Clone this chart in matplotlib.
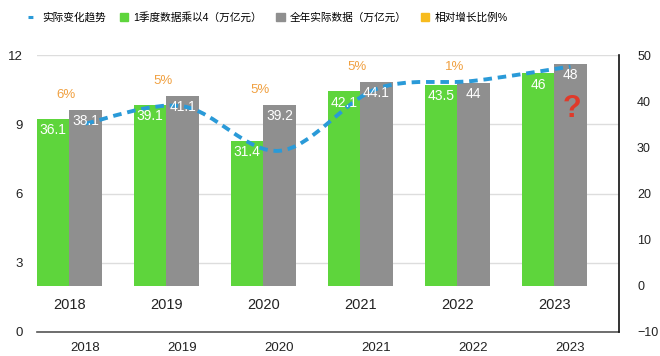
import matplotlib
matplotlib.use("Agg")
import matplotlib.pyplot as plt
from matplotlib.path import Path
from matplotlib.patches import PathPatch, Patch
from matplotlib.lines import Line2D
import numpy as np

plt.rcParams['font.family'] = ['Liberation Sans', 'Noto Sans CJK SC', 'DejaVu Sans']

years = ['2018', '2019', '2020', '2021', '2022', '2023']
q1_x4 = [36.1, 39.1, 31.4, 42.1, 43.5, 46]        # 1季度数据乘以4
full_year = [38.1, 41.1, 39.2, 44.1, 44, 48]      # 全年实际数据
trend = [9.03, 9.78, 7.85, 10.53, 10.88, 11.5]    # 实际变化趋势 (left axis)
growth = ['6%', '5%', '5%', '5%', '1%', '?']      # 相对增长比例%

GREEN = '#5ed53c'
GRAY = '#8f8f8f'
BLUE = '#2a9ad8'
ORANGE = '#f0a040'
GOLD = '#f7bb1e'


def smooth_path(xs, ys):
    # Catmull-Rom through the points, as cubic Bezier segments
    pts = np.column_stack([xs, ys])
    verts = [pts[0]]
    codes = [Path.MOVETO]
    n = len(pts)
    for i in range(n - 1):
        p0 = pts[max(i - 1, 0)]
        p1 = pts[i]
        p2 = pts[i + 1]
        p3 = pts[min(i + 2, n - 1)]
        verts += [p1 + (p2 - p0) / 6, p2 - (p3 - p1) / 6, p2]
        codes += [Path.CURVE4] * 3
    return Path(verts, codes)


fig = plt.figure(figsize=(6.6, 3.56), dpi=100)
ax1 = fig.add_axes([37 / 660, 24 / 356, 582 / 660, 277 / 356])
ax2 = ax1.twinx()

x = np.arange(len(years))
w = 0.335

# left axis: grid + ticks
ax1.set_xlim(-0.5, len(years) - 0.5)
ax1.set_ylim(0, 12)
ax1.set_yticks([0, 3, 6, 9, 12])
ax1.yaxis.grid(True, color='#dddddd', lw=1)
ax1.set_axisbelow(True)
ax1.tick_params(axis='y', length=0, pad=10, labelsize=9.5, labelcolor='#222222')
ax1.set_xticks(x)
ax1.set_xticklabels(years)
ax1.tick_params(axis='x', length=0, pad=7, labelsize=9.5, labelcolor='#222222')
for s in ['left', 'top', 'right']:
    ax1.spines[s].set_visible(False)
ax1.spines['bottom'].set_color('#555555')
ax1.spines['bottom'].set_linewidth(1.2)

# right axis: bars
ax2.set_ylim(-10, 50)
ax2.set_yticks([-10, 0, 10, 20, 30, 40, 50])
ax2.tick_params(axis='y', length=0, pad=13, labelsize=9, labelcolor='#222222')
for s in ['left', 'top', 'bottom']:
    ax2.spines[s].set_visible(False)
ax2.spines['right'].set_color('#111111')
ax2.spines['right'].set_linewidth(1.2)

ax2.bar(x - w, q1_x4, w, align='center', color=GREEN, zorder=2)
ax2.bar(x, full_year, w, align='center', color=GRAY, zorder=2)

for i in range(len(years)):
    ax2.annotate(f'{q1_x4[i]:g}', (x[i] - w, q1_x4[i]), xytext=(0, -8),
                 textcoords='offset points', ha='center', va='center',
                 color='white', fontsize=10, zorder=4)
    ax2.annotate(f'{full_year[i]:g}', (x[i], full_year[i]), xytext=(0, -8),
                 textcoords='offset points', ha='center', va='center',
                 color='white', fontsize=10, zorder=4)
    ax2.text(x[i] - w / 2, -4.2, years[i], ha='center', va='center',
             fontsize=10.5, color='#222222')
    if growth[i] == '?':
        ax2.annotate('?', (x[i], full_year[i]), xytext=(1, -32),
                     textcoords='offset points', ha='center', va='center',
                     color='#e03a2a', fontsize=22, fontweight='bold', zorder=4)
    else:
        ax2.annotate(growth[i], (x[i] - w / 2, full_year[i]), xytext=(-2, 11),
                     textcoords='offset points', ha='center', va='center',
                     color=ORANGE, fontsize=9.5, zorder=4)

# trend line drawn on top of bars, in left-axis coordinates
path = smooth_path(x, trend)
ax2.add_patch(PathPatch(path, transform=ax1.transData, fill=False,
                        edgecolor=BLUE, lw=2.8, linestyle=(0, (2.2, 1.5)),
                        capstyle='butt', zorder=3))

handles = [
    Line2D([], [], color=BLUE, lw=2.2, linestyle=(0, (1.6, 1.6))),
    Patch(color=GREEN),
    Patch(color=GRAY),
    Patch(color=GOLD),
]
labels = ['实际变化趋势', '1季度数据乘以4（万亿元）', '全年实际数据（万亿元）', '相对增长比例%']
fig.legend(handles, labels, loc='center', bbox_to_anchor=(0.406, 0.952), ncol=4,
           frameon=False, fontsize=7.7, handlelength=0.8, handleheight=0.8,
           handletextpad=0.5, columnspacing=1.3)

fig.savefig('out.png', dpi=100)
